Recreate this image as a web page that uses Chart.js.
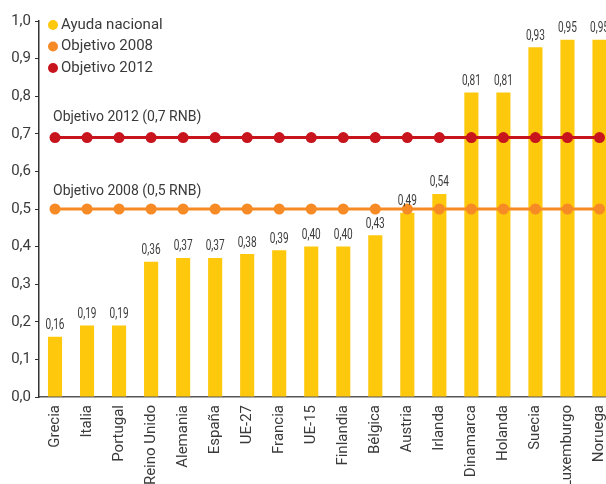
<!DOCTYPE html>
<html>
<head>
<meta charset="utf-8">
<script src="https://cdn.jsdelivr.net/npm/chart.js@4"></script>
<style>
  html, body { margin: 0; padding: 0; background: #fff; overflow: hidden; }
  #wrap { width: 606px; height: 484px; overflow: hidden; position: relative; }
  canvas { position: absolute; left: 0; top: 0; }
</style>
</head>
<body>
<div id="wrap"><canvas id="grafico" width="621" height="484"></canvas></div>
<script>
// Datos
const paises = ["Grecia", "Italia", "Portugal", "Reino Unido", "Alemania", "España", "UE-27", "Francia", "UE-15",
    "Finlandia", "Bélgica", "Austria", "Irlanda", "Dinamarca", "Holanda", "Suecia", "Luxemburgo", "Noruega"];
const ayudaNacional = [0.16, 0.19, 0.19, 0.36, 0.37, 0.37, 0.38, 0.39, 0.40, 0.40, 0.43, 0.49, 0.54, 0.81, 0.81, 0.93, 0.95, 0.95];
const objetivo2008 = paises.map(() => 0.5);
const objetivo2012 = paises.map(() => 0.69);
const etiquetasObjetivo = ["Objetivo 2008 (0,5 RNB)", "Objetivo 2012 (0,7 RNB)"];
const ejeY = { min: 0, max: 1, paso: 0.1 };

const AMARILLO = "#fec80c";
const NARANJA = "#f68a24";
const ROJO = "#c8141d";
const TEXTO = "#3a3a3a";
const FUENTE = "Roboto, 'Open Sans', sans-serif";

const coma = (v, d) => v.toFixed(d).replace(".", ",");

// Etiquetas, leyenda y textos de objetivos
const extras = {
    id: "extras",
    afterDatasetsDraw(chart) {
        const ctx = chart.ctx;
        const y = chart.scales.y;
        const meta = chart.getDatasetMeta(0);

        // valores sobre las barras (fuente estrecha)
        ctx.save();
        ctx.fillStyle = TEXTO;
        ctx.font = "14px " + FUENTE;
        ctx.textAlign = "center";
        ctx.textBaseline = "bottom";
        meta.data.forEach((bar, i) => {
            ctx.save();
            ctx.translate(bar.x, bar.y - 4);
            ctx.scale(0.72, 1);
            ctx.fillText(coma(ayudaNacional[i], 2), 0, 0);
            ctx.restore();
        });
        ctx.restore();

        // textos de objetivos
        ctx.save();
        ctx.fillStyle = TEXTO;
        ctx.font = "14px " + FUENTE;
        ctx.textAlign = "left";
        ctx.textBaseline = "middle";
        const xTexto = chart.chartArea.left + 14;
        ctx.fillText(etiquetasObjetivo[0], xTexto, y.getPixelForValue(objetivo2008[0]) - 18);
        ctx.fillText(etiquetasObjetivo[1], xTexto, y.getPixelForValue(objetivo2012[0]) - 20);
        ctx.restore();

        // leyenda
        ctx.save();
        ctx.font = "15px " + FUENTE;
        ctx.textBaseline = "middle";
        ctx.textAlign = "left";
        const items = [
            [chart.data.datasets[0].label, AMARILLO],
            [chart.data.datasets[1].label, NARANJA],
            [chart.data.datasets[2].label, ROJO],
        ];
        items.forEach(([txt, col], i) => {
            const cy = 25 + i * 21.5;
            ctx.fillStyle = col;
            ctx.beginPath();
            ctx.arc(53, cy, 5, 0, Math.PI * 2);
            ctx.fill();
            ctx.fillStyle = TEXTO;
            ctx.fillText(txt, 61, cy);
        });
        ctx.restore();
    }
};

new Chart(document.getElementById("grafico"), {
    type: "bar",
    data: {
        labels: paises,
        datasets: [{
            type: "bar",
            label: "Ayuda nacional",
            data: ayudaNacional,
            backgroundColor: AMARILLO,
            barPercentage: 0.44,
            categoryPercentage: 1,
            order: 3,
        }, {
            type: "line",
            label: "Objetivo 2008",
            data: objetivo2008,
            borderColor: NARANJA,
            backgroundColor: NARANJA,
            borderWidth: 3,
            pointRadius: 5.5,
            pointBorderWidth: 0,
            order: 2,
        }, {
            type: "line",
            label: "Objetivo 2012",
            data: objetivo2012,
            borderColor: ROJO,
            backgroundColor: ROJO,
            borderWidth: 3,
            pointRadius: 5.5,
            pointBorderWidth: 0,
            order: 1,
        }],
    },
    options: {
        responsive: false,
        animation: false,
        devicePixelRatio: 1,
        layout: { padding: { top: 21, right: 0, left: 0, bottom: 0 } },
        plugins: {
            legend: { display: false },
            tooltip: { enabled: false },
        },
        scales: {
            x: {
                offset: true,
                grid: { display: false, drawTicks: false },
                border: { display: true, color: "#555", width: 1.5 },
                ticks: {
                    color: TEXTO,
                    font: { size: 15, family: FUENTE },
                    minRotation: 90,
                    maxRotation: 90,
                    autoSkip: false,
                    padding: 8,
                },
                afterFit: (s) => { s.height = 87; s.paddingLeft = 0; s.paddingRight = 0; },
            },
            y: {
                min: ejeY.min,
                max: ejeY.max,
                grid: { drawOnChartArea: false, drawTicks: true, tickLength: 4, color: "#333" },
                border: { display: true, color: "#333", width: 1.5 },
                ticks: {
                    stepSize: ejeY.paso,
                    color: TEXTO,
                    font: { size: 15, family: FUENTE },
                    padding: 4,
                    callback: (v) => coma(v, 1),
                },
                afterFit: (s) => { s.width = 39; s.paddingTop = 0; s.paddingBottom = 0; },
            },
        },
    },
    plugins: [extras],
});
</script>
</body>
</html>
